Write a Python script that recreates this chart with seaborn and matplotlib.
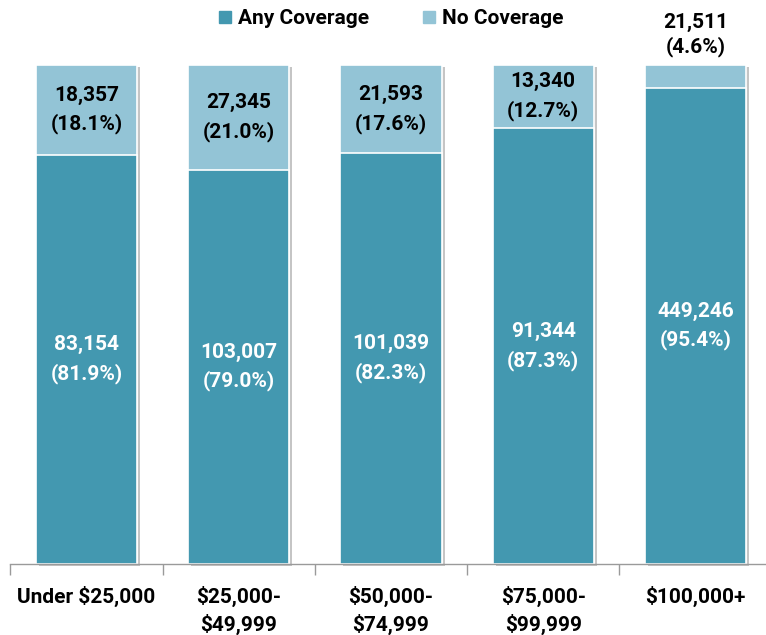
import matplotlib
matplotlib.use("Agg")
import matplotlib.pyplot as plt
import matplotlib.patheffects as pe
from matplotlib.lines import Line2D
import seaborn as sns
import pandas as pd

categories = ["Under $25,000", "$25,000-\n$49,999", "$50,000-\n$74,999", "$75,000-\n$99,999", "$100,000+"]
any_counts = [83154, 103007, 101039, 91344, 449246]
no_counts = [18357, 27345, 21593, 13340, 21511]
any_pct = [81.9, 79.0, 82.3, 87.3, 95.4]
no_pct = [18.1, 21.0, 17.6, 12.7, 4.6]

DARK = "#4398B0"
LIGHT = "#93C4D6"

sns.set_theme(style="white")
plt.rcParams['font.family'] = ['Roboto', 'DejaVu Sans']
plt.rcParams['font.weight'] = 'bold'
plt.rcParams['text.color'] = 'black'

df = pd.DataFrame({
    "cat": categories,
    "any": any_pct,
    "total": [a + n for a, n in zip(any_pct, no_pct)],
})

fig = plt.figure(figsize=(7.66, 6.35), dpi=100)
ax = fig.add_axes([10.4 / 766, (635 - 564) / 635, 761.2 / 766, 499 / 635])

shadow = [pe.SimplePatchShadow(offset=(2.2, -1.2), shadow_rgbFace="#808080", alpha=0.45), pe.Normal()]

sns.barplot(data=df, x="cat", y="total", color=LIGHT, width=0.665, saturation=1,
            edgecolor="white", linewidth=1.2, ax=ax)
n_light = len(ax.patches)
sns.barplot(data=df, x="cat", y="any", color=DARK, width=0.665, saturation=1,
            edgecolor="white", linewidth=1.2, ax=ax)
for i, p in enumerate(ax.patches):
    if i < n_light:
        p.set_path_effects(shadow)
    p.set_clip_on(False)

ax.set_ylim(0, 100)
ax.set_xlim(-0.5, 4.5)
ax.set_xlabel("")
ax.set_ylabel("")
ax.set_yticks([])
for s in ["left", "right", "top"]:
    ax.spines[s].set_visible(False)
ax.spines["bottom"].set_color("#9a9a9a")
ax.spines["bottom"].set_linewidth(1.0)

FS = 15
ax.set_xticks(range(len(categories)))
ax.set_xticklabels(categories, fontsize=FS, fontweight="bold", color="black", linespacing=1.4)
ax.set_xticks([i - 0.5 for i in range(len(categories) + 1)], minor=True)
ax.tick_params(axis="x", which="major", length=0, pad=16)
ax.tick_params(axis="x", which="minor", length=8, width=1, color="#9a9a9a", direction="out", bottom=True)
for lbl in ax.get_xticklabels():
    lbl.set_verticalalignment("top")

for i in range(len(categories)):
    a = any_pct[i]
    n = no_pct[i]
    ax.text(i, a / 2, f"{any_counts[i]:,}\n({a:.1f}%)", ha="center", va="center",
            color="white", fontsize=FS, fontweight="bold", linespacing=1.55)
    if n >= 8:
        ax.text(i, a + n / 2, f"{no_counts[i]:,}\n({n:.1f}%)", ha="center", va="center",
                color="black", fontsize=FS, fontweight="bold", linespacing=1.55)
    else:
        ax.text(i, a + n + 6, f"{no_counts[i]:,}\n({n:.1f}%)", ha="center", va="center",
                color="black", fontsize=FS, fontweight="bold", linespacing=1.3, clip_on=False)

handles = [Line2D([0], [0], marker="s", linestyle="none", markersize=8, markerfacecolor=DARK, markeredgecolor=DARK),
           Line2D([0], [0], marker="s", linestyle="none", markersize=8, markerfacecolor=LIGHT, markeredgecolor=LIGHT)]
fig.legend(handles, ["Any Coverage", "No Coverage"], loc="center", bbox_to_anchor=(390 / 766, 1 - 19 / 635),
           ncol=2, frameon=False, prop={"size": FS, "weight": "bold"}, handletextpad=0.2,
           columnspacing=2.5, handlelength=0.8, labelcolor="black")

fig.savefig("out.png", dpi=100)
